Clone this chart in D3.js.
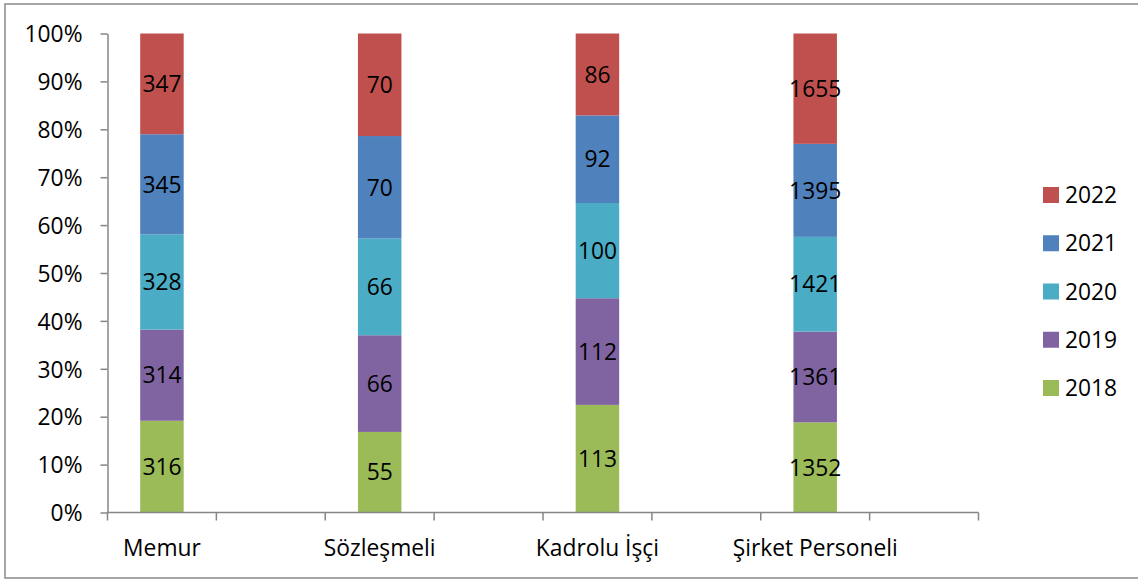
<!DOCTYPE html>
<html lang="tr">
<head>
<meta charset="utf-8">
<title>Personel</title>
<script src="https://cdn.jsdelivr.net/npm/d3@7"></script>
<style>
  body { margin: 0; background: #fff; }
  text { font-family: "Open Sans", sans-serif; fill: #000; }
</style>
</head>
<body>
<script>
  const categories = ["Memur", "Sözleşmeli", "Kadrolu İşçi", "Şirket Personeli"];
  const years = ["2018", "2019", "2020", "2021", "2022"];
  const v2018 = [316, 55, 113, 1352];
  const v2019 = [314, 66, 112, 1361];
  const v2020 = [328, 66, 100, 1421];
  const v2021 = [345, 70, 92, 1395];
  const v2022 = [347, 70, 86, 1655];
  const yTicks = [0, 0.1, 0.2, 0.3, 0.4, 0.5, 0.6, 0.7, 0.8, 0.9, 1];
  const colors = ["#9BBB59", "#8064A2", "#4BACC6", "#4F81BD", "#C0504D"];

  const W = 1138, H = 579;
  const fs = 22.8;
  const svg = d3.select("body").append("svg").attr("width", W).attr("height", H);

  // chart border
  svg.append("rect").attr("x", 5).attr("y", 4).attr("width", W + 10).attr("height", 574)
    .attr("fill", "none").attr("stroke", "#8a8a8a").attr("stroke-width", 1.5);

  const series = [v2018, v2019, v2020, v2021, v2022];
  const rows = categories.map((c, i) => {
    const r = { cat: c };
    years.forEach((y, j) => { r[y] = series[j][i]; });
    return r;
  });
  const stacked = d3.stack().keys(years).offset(d3.stackOffsetExpand)(rows);

  const x = d3.scaleBand().domain(categories).range([107.5, 978.5]).paddingInner(0).paddingOuter(0);
  const y = d3.scaleLinear().domain([0, 1]).range([512.5, 33.5]);
  const bw = 43.5;
  const bx = c => x(c) + x.bandwidth() / 4 - bw / 2;

  const layers = svg.append("g").selectAll("g").data(stacked).enter().append("g")
    .attr("fill", (d, i) => colors[i]);
  layers.selectAll("rect").data(d => d).enter().append("rect")
    .attr("x", d => bx(d.data.cat))
    .attr("y", d => y(d[1]))
    .attr("width", bw)
    .attr("height", d => y(d[0]) - y(d[1]));

  // value labels
  stacked.forEach(layer => {
    svg.append("g").selectAll("text").data(layer).enter().append("text")
      .attr("x", d => bx(d.data.cat) + bw / 2)
      .attr("y", d => (y(d[0]) + y(d[1])) / 2)
      .attr("dy", "0.36em")
      .attr("text-anchor", "middle")
      .style("font-size", fs + "px")
      .text(d => d.data[layer.key]);
  });

  // y axis
  const gY = svg.append("g").attr("transform", "translate(107.5,0)")
    .call(d3.axisLeft(y).tickValues(yTicks).tickFormat(d3.format(".0%")).tickSize(7).tickSizeOuter(0).tickPadding(18));
  gY.selectAll("text").style("font-size", fs + "px").attr("dy", "0.36em");

  // x axis: ticks at every half band
  const gX = svg.append("g").attr("transform", "translate(0,512.5)");
  gX.append("line").attr("x1", 107.5).attr("x2", 978.5).attr("y1", 0).attr("y2", 0);
  const tickX = [];
  categories.forEach(c => { tickX.push(x(c), x(c) + x.bandwidth() / 2); });
  tickX.push(x.range()[1]);
  gX.selectAll(".tk").data(tickX).enter().append("line").attr("class", "tk")
    .attr("x1", d => d).attr("x2", d => d).attr("y1", 0).attr("y2", 8);
  gX.selectAll("line").attr("stroke", "#868686").attr("stroke-width", 1.5);
  gY.selectAll("line, path").attr("stroke", "#868686").attr("stroke-width", 1.5);
  gX.selectAll(".lbl").data(categories).enter().append("text").attr("class", "lbl")
    .attr("x", c => bx(c) + bw / 2)
    .attr("y", 43.5)
    .attr("text-anchor", "middle")
    .style("font-size", fs + "px")
    .text(c => c);

  // legend
  const legendYears = years.slice().reverse();
  const ly = d3.scalePoint().domain(legendYears).range([195, 388]);
  const leg = svg.append("g").selectAll("g").data(legendYears).enter().append("g")
    .attr("transform", d => `translate(1043,${ly(d)})`);
  leg.append("rect").attr("x", 0).attr("y", -8).attr("width", 16).attr("height", 16)
    .attr("fill", d => colors[years.indexOf(d)]);
  leg.append("text").attr("x", 22).attr("dy", "0.36em").style("font-size", fs + "px").text(d => d);
</script>
</body>
</html>
